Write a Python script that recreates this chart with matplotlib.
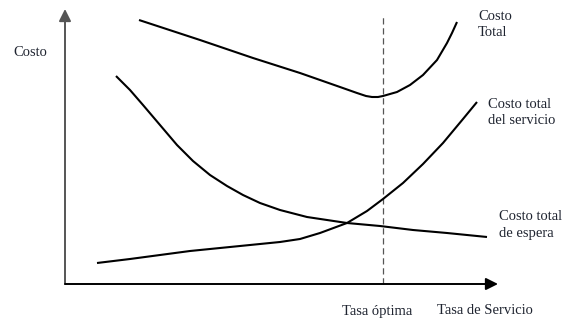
"""
Costo total vs tasa de servicio (esquema de teoria de colas)
"""
#------------------------------------------------------------------------------
# Libraries
#------------------------------------------------------------------------------

import matplotlib
matplotlib.use("Agg")
import matplotlib.pyplot as plt

#------------------------------------------------------------------------------
# Data (arbitrary units, origin at the axes corner)
#------------------------------------------------------------------------------

total_x = [74, 135, 188, 235, 275, 292, 301, 307, 313, 318, 325, 332,
           345, 358, 372, 382, 387, 392]
total_y = [264, 244, 226, 211, 197, 191, 188, 187, 187, 188, 190, 192,
           199, 209, 224, 241, 251, 262]

servicio_x = [32, 65, 95, 125, 155, 185, 215, 235, 255, 282, 302, 318,
              338, 358, 378, 398, 412]
servicio_y = [21, 25, 29, 33, 36, 39, 42, 45, 51, 61, 73, 85,
              101, 120, 141, 165, 182]

espera_x = [51, 65, 78, 95, 112, 128, 145, 162, 178, 195, 215, 242,
            282, 315, 348, 382, 422]
espera_y = [208, 194, 179, 159, 139, 123, 109, 98, 89, 81, 74, 67,
            61, 58, 54, 51, 47]

x_optimo = 318

#------------------------------------------------------------------------------
# Figure
#------------------------------------------------------------------------------

plt.rcParams["font.family"] = ["Liberation Serif", "DejaVu Serif"]

fig = plt.figure(figsize=(5.64, 3.25), dpi=100)
ax = fig.add_axes([0, 0, 1, 1])
ax.set_xlim(-65, 499)
ax.set_ylim(-41, 284)
ax.axis("off")

# axes with arrows
ax.annotate("", xy=(0, 275), xytext=(0, 0),
            arrowprops=dict(arrowstyle="-|>", color="#555555", lw=1.4,
                            mutation_scale=18, shrinkA=0, shrinkB=0))
ax.annotate("", xy=(433, 0), xytext=(0, 0),
            arrowprops=dict(arrowstyle="-|>", color="black", lw=1.4,
                            mutation_scale=18, shrinkA=0, shrinkB=0))

# optimum
ax.plot([x_optimo, x_optimo], [0, 269], color="#555555", lw=0.9,
        dashes=(5, 3))

# curves
for xs, ys in [(total_x, total_y), (servicio_x, servicio_y),
               (espera_x, espera_y)]:
    ax.plot(xs, ys, color="black", lw=1.5, solid_capstyle="butt",
            solid_joinstyle="round")

# labels
fs = 10.5
tc = "#1f2430"
ax.text(-52, 232, "Costo", fontsize=fs, color=tc, va="center", ha="left")
ax.text(413, 260, "Costo\nTotal", fontsize=fs, color=tc, va="center",
        ha="left", linespacing=1.3)
ax.text(423, 172, "Costo total\ndel servicio", fontsize=fs, color=tc,
        va="center", ha="left", linespacing=1.3)
ax.text(434, 59, "Costo total\nde espera", fontsize=fs, color=tc,
        va="center", ha="left", linespacing=1.3)
ax.text(x_optimo - 6, -27, "Tasa óptima", fontsize=fs, color=tc,
        va="center", ha="center")
ax.text(372, -27, "Tasa de Servicio", fontsize=fs, color=tc,
        va="center", ha="left")

fig.savefig("out.png", dpi=100)

#------------------------------------------------------------------------------
# END
